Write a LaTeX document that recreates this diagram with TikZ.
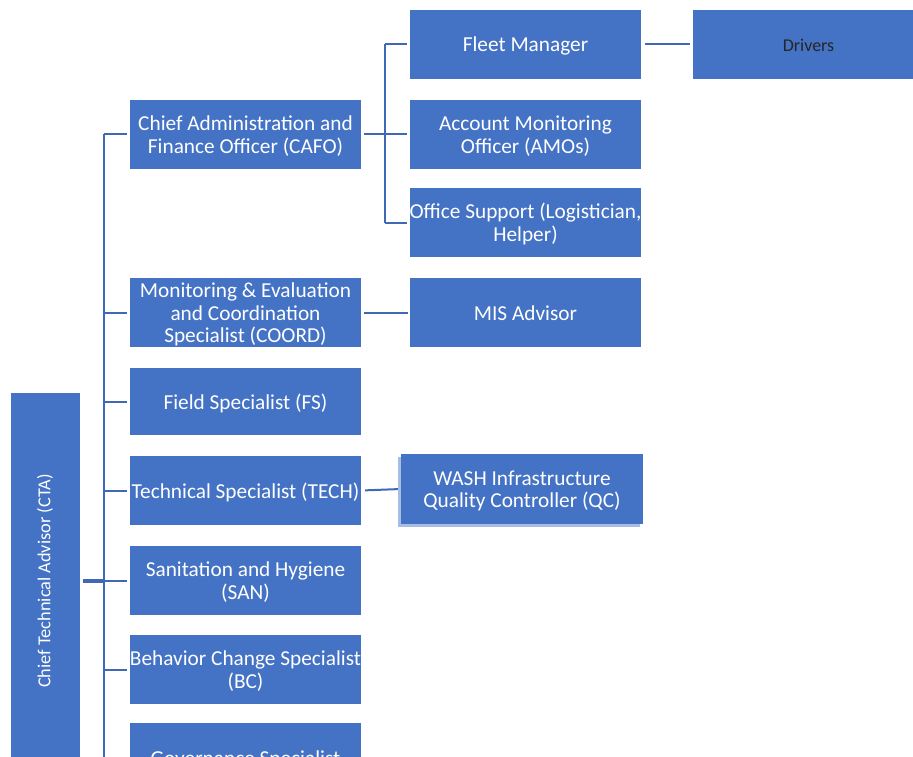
\documentclass[tikz,border=0pt]{standalone}
\usepackage{fontspec}
\setmainfont{Carlito}
\usetikzlibrary{shadows}
\definecolor{boxblue}{HTML}{4472C4}
\definecolor{lineblue}{HTML}{3F68B5}
\definecolor{shadeblue}{HTML}{A9BCE3}
% one centred line of zero width, with a fixed line box (height 18.75pt, depth 3.75pt)
\newcommand\cl[1]{\makebox[0pt]{\rule[-3.75pt]{0pt}{22.5pt}#1}}
\begin{document}
\begin{tikzpicture}[x=1pt,y=-1pt,
  box/.style={fill=boxblue, text=white, minimum width=231pt, minimum height=69pt, inner sep=0pt, align=center, font=\fontsize{21.3}{22.5}\selectfont},
  conn/.style={draw=lineblue, line width=2pt},
  gapend/.style={shorten >=2.5pt},
  gapstart/.style={shorten <=3pt}
]
\useasboundingbox (0,0) rectangle (913,757);
\clip (0,0) rectangle (913,757);

% left column
\node[box, minimum width=69pt, minimum height=376pt, font=\fontsize{18.3}{20}\selectfont] (cta) at (45,581) {\rotatebox{90}{Chief Technical Advisor (CTA)}};

\node[box] (cafo) at (245.5,134.5) {\cl{Chief Administration and}\\\cl{Finance Officer (CAFO)}};
\node[box] (coord) at (245.5,312.5) {\cl{Monitoring \& Evaluation}\\\cl{and Coordination}\\\cl{Specialist (COORD)}};
\node[box, minimum height=67pt] (fs) at (245.5,401.5) {\cl{Field Specialist (FS)}};
\node[box] (tech) at (245.5,490.5) {\cl{Technical Specialist (TECH)}};
\node[box] (san) at (245.5,580.5) {\cl{Sanitation and Hygiene}\\\cl{(SAN)}};
\node[box] (bc) at (245.5,669.5) {\cl{Behavior Change Specialist}\\\cl{(BC)}};
\node[box] (gov) at (245.5,757.5) {\cl{Governance Specialist}};

% middle column
\node[box] (fleet) at (525.5,44.5) {\cl{Fleet Manager}};
\node[box] (amo) at (525.5,134.5) {\cl{Account Monitoring}\\\cl{Officer (AMOs)}};
\node[box] (os) at (525.5,222.5) {\cl{Office Support (Logistician,}\\\cl{Helper)}};
\node[box] (mis) at (525.5,312.5) {\cl{MIS Advisor}};
\node[box, minimum width=242pt, minimum height=70pt,
  general shadow={fill=shadeblue, shadow xshift=-3pt, shadow yshift=-3pt}] (qc) at (522,489) {\cl{WASH Infrastructure}\\\cl{Quality Controller (QC)}};

% right
\node[box, text=black!85, font=\fontsize{18}{22.5}\selectfont] (drv) at (808.5,44.5) {\cl{Drivers}};

% trunk
\coordinate (ttop) at (104,134.5);
\coordinate (tbot) at (104,770);
\draw[conn] (ttop) -- (tbot);
\draw[conn, line width=3.2pt, gapstart] (cta.east |- 0,581) -- (ttop |- 0,581);
\foreach \n in {cafo,coord,fs,tech,san,bc,gov}
  \draw[conn, gapend] (ttop |- \n.west) -- (\n.west);

% CAFO branch
\coordinate (ctop) at (385,44.5);
\coordinate (cbot) at (385,222.5);
\draw[conn] (ctop) -- (cbot);
\draw[conn, gapstart] (cafo.east) -- (ctop |- cafo.east);
\foreach \n in {fleet,amo,os}
  \draw[conn, gapend] (ctop |- \n.west) -- (\n.west);

% other links
\draw[conn, shorten <=4pt, shorten >=3pt] (fleet.east) -- (drv.west);
\draw[conn, shorten <=3pt, shorten >=2pt] (coord.east) -- (mis.west);
\draw[conn, shorten <=4pt, shorten >=3pt] (tech.east) -- (qc.west);
\end{tikzpicture}
\end{document}
